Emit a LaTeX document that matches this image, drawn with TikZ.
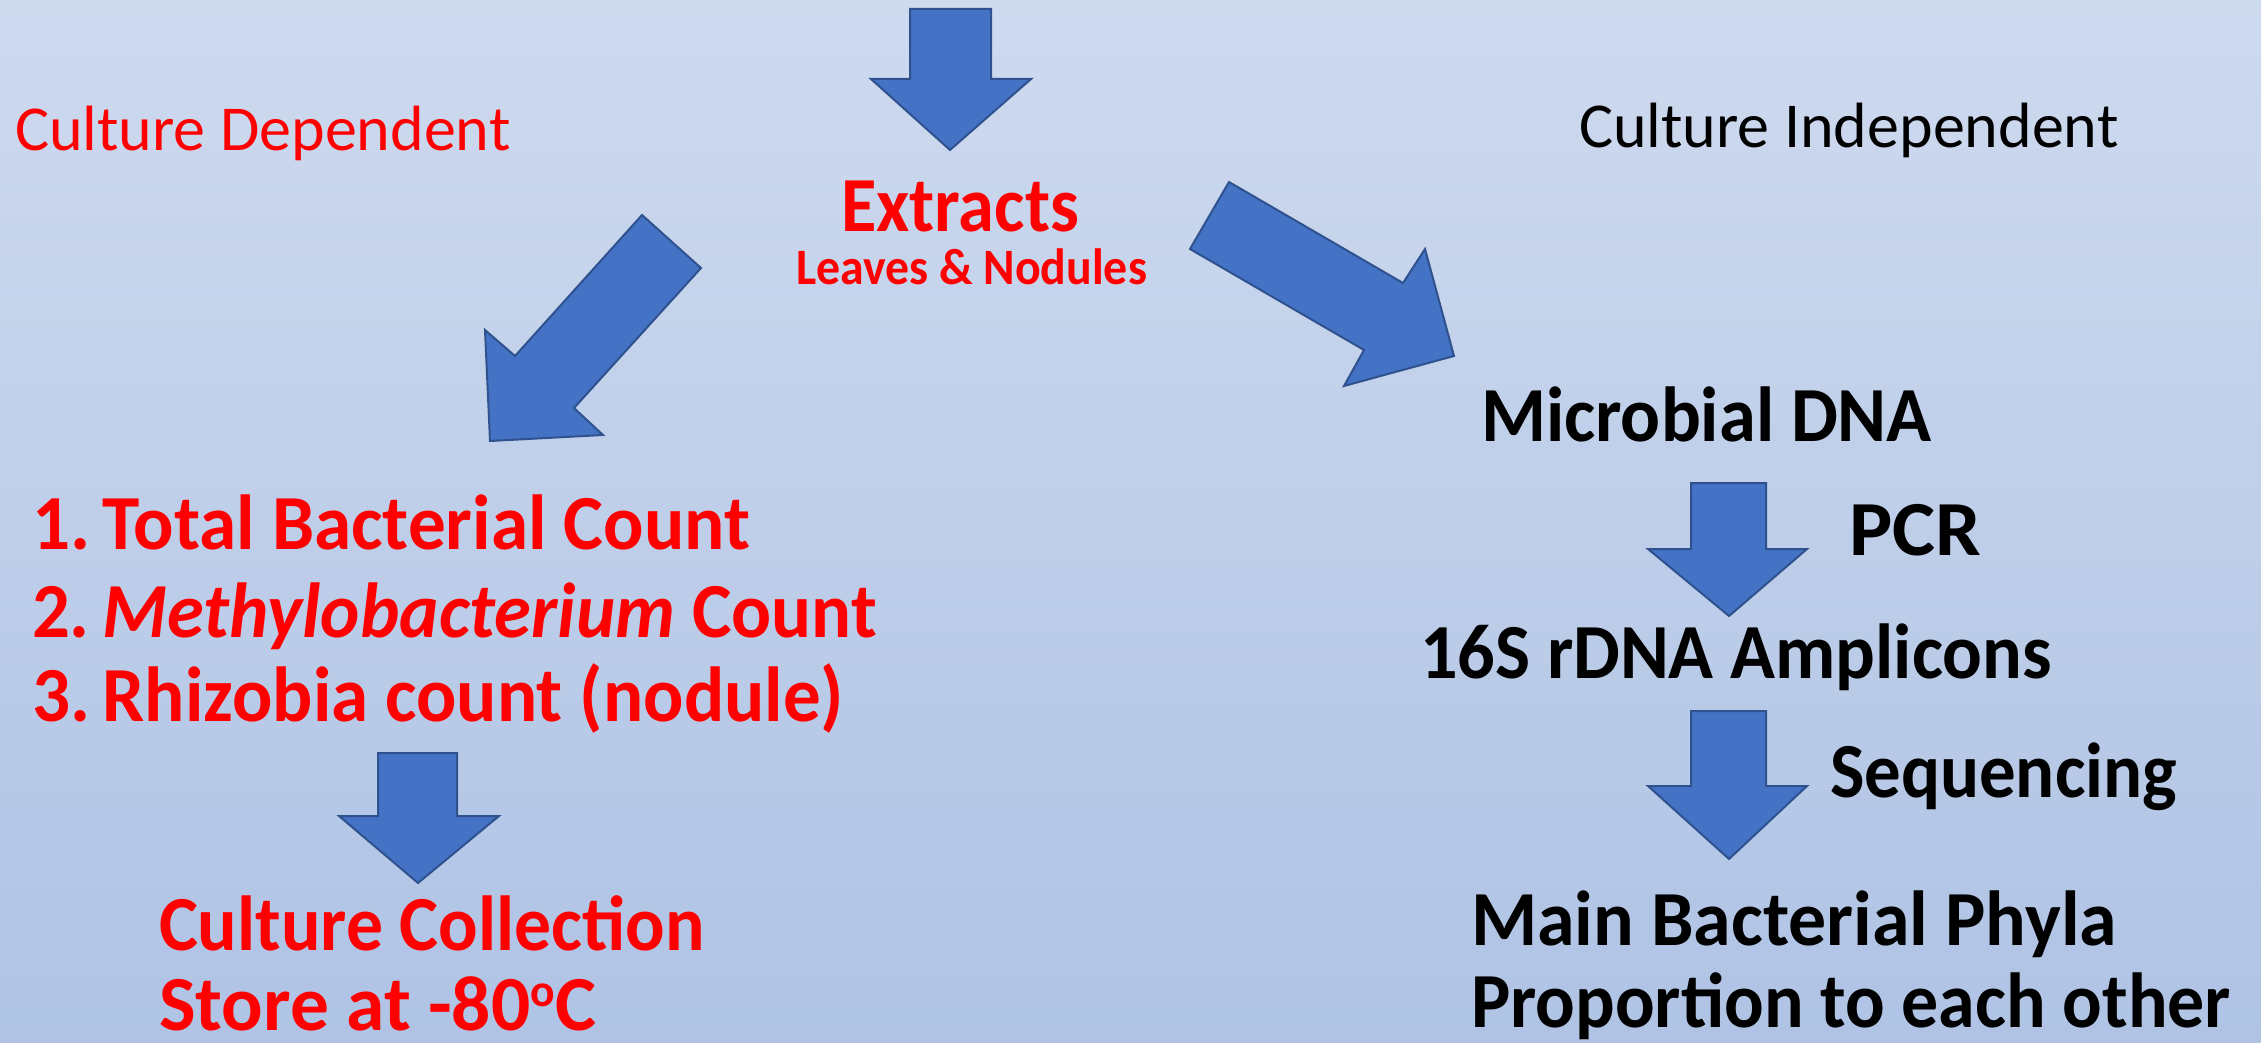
\documentclass[tikz,border=0pt]{standalone}
\usepackage{fontspec}
\setmainfont{Carlito}
\usepackage{graphicx}
\definecolor{arrowfill}{HTML}{4472C4}
\definecolor{arrowline}{HTML}{2F528F}
\definecolor{bgtop}{HTML}{DDE5F3}
\definecolor{bgmid}{HTML}{AABFE3}
\definecolor{bgbot}{HTML}{BCCCEA}
\definecolor{txtred}{HTML}{FF0000}
\pgfdeclareverticalshading{bgshade}{100bp}{color(0bp)=(bgbot); color(16bp)=(bgmid); color(100bp)=(bgtop)}
\newcommand{\fitw}[2]{\resizebox{#1pt}{\height}{#2}}
\newcommand{\degsup}{{\fontsize{46}{46}\selectfont\raisebox{24pt}{o}}}
\begin{document}
\begin{tikzpicture}[x=1pt,y=-1pt,
  blk/.style={fill=arrowfill,draw=arrowline,line width=2pt,line join=miter},
  txt/.style={anchor=base west,inner sep=0pt,outer sep=0pt},
  big/.style={txt,font=\bfseries\fontsize{78}{90}\selectfont},
  lab/.style={txt,font=\fontsize{64}{74}\selectfont}]
\useasboundingbox (0,0) rectangle (2261,1043);
\shade[shading=bgshade] (0,0) rectangle (2261,1043);

% block arrows
\draw[blk] (910,9) -- (991,9) -- (991,79) -- (1031,79) -- (950,150) -- (871,79) -- (910,79) -- cycle;
\draw[blk] (642,215) -- (701,268) -- (574,408) -- (603,435) -- (490,441) -- (485,330) -- (515,356) -- cycle;
\draw[blk] (1229,182) -- (1403,283) -- (1425,249) -- (1454,356) -- (1344,386) -- (1364,350) -- (1190,249) -- cycle;
\draw[blk] (378,753) -- (457,753) -- (457,816) -- (499,816) -- (418,883) -- (339,816) -- (378,816) -- cycle;
\draw[blk] (1691,483) -- (1766,483) -- (1766,549) -- (1807,549) -- (1729,616) -- (1648,549) -- (1691,549) -- cycle;
\draw[blk] (1691,711) -- (1766,711) -- (1766,786) -- (1807,786) -- (1729,859) -- (1648,786) -- (1691,786) -- cycle;

% labels
\node[lab,text=txtred] (dep) at (15,151) {Culture Dependent};
\node[lab,text=black] (indep) at (1579,148) {Culture Independent};

\node[big,text=txtred] (extracts) at (841,231) {\fitw{238}{Extracts}};
\node[big,text=txtred,font=\bfseries\fontsize{51}{60}\selectfont] (leaves) at (796,284) {\fitw{351}{Leaves \& Nodules}};

\node[big,text=txtred] (item1) at (32,549) {\fitw{718}{1.\,Total Bacterial Count}};
\node[big,text=txtred] (item2) at (32,637) {\fitw{845}{2.\,\textit{Methylobacterium} Count}};
\node[big,text=txtred] (item3) at (32,721) {\fitw{812}{3.\,Rhizobia count (nodule)}};
\node[big,text=txtred] (coll) at (159,950) {\fitw{546}{Culture Collection}};
\node[big,text=txtred] (store) at (159,1030) {\fitw{437}{Store at -80\degsup C}};

\node[big,text=black] (dna) at (1481,441) {\fitw{451}{Microbial DNA}};
\node[big,text=black] (pcr) at (1849,555) {\fitw{132}{PCR}};
\node[big,text=black] (amp) at (1420,678) {\fitw{632}{16S rDNA Amplicons}};
\node[big,text=black] (seq) at (1830,797) {\fitw{347}{Sequencing}};
\node[big,text=black] (phyla) at (1471,945) {\fitw{646}{Main Bacterial Phyla}};
\node[big,text=black] (prop) at (1471,1027) {\fitw{760}{Proportion to each other}};
\end{tikzpicture}
\end{document}
